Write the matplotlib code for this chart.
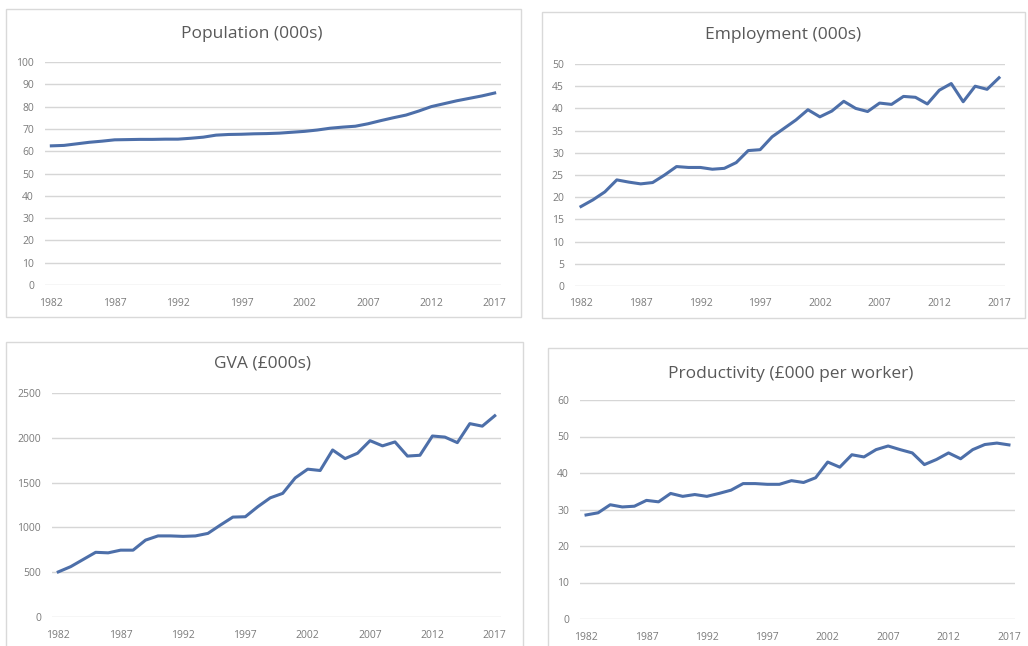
import matplotlib
matplotlib.use("Agg")
import matplotlib.pyplot as plt
from matplotlib.patches import Rectangle

years = list(range(1982, 2018))
year_ticks = [1982, 1987, 1992, 1997, 2002, 2007, 2012, 2017]

population = [62.4, 62.6, 63.3, 64.0, 64.5, 65.1, 65.2, 65.3, 65.3, 65.4,
              65.4, 65.8, 66.3, 67.2, 67.5, 67.6, 67.8, 67.9, 68.1, 68.5,
              68.9, 69.5, 70.3, 70.8, 71.2, 72.3, 73.7, 75.0, 76.2, 78.0,
              80.0, 81.3, 82.6, 83.7, 84.8, 86.1]

employment = [17.9, 19.4, 21.2, 23.9, 23.4, 23.0, 23.3, 25.0, 26.9, 26.7,
              26.7, 26.3, 26.5, 27.8, 30.5, 30.7, 33.6, 35.5, 37.4, 39.7,
              38.1, 39.4, 41.6, 40.0, 39.3, 41.2, 40.9, 42.7, 42.5, 41.0,
              44.1, 45.6, 41.5, 45.0, 44.3, 46.9]

gva = [503, 562, 642, 722, 716, 746, 746, 858, 905, 905,
       900, 905, 933, 1026, 1115, 1119, 1231, 1330, 1380, 1552,
       1650, 1635, 1864, 1768, 1828, 1968, 1910, 1954, 1796, 1805,
       2020, 2008, 1946, 2158, 2130, 2246]

productivity = [28.5, 29.1, 31.3, 30.7, 30.9, 32.5, 32.1, 34.4, 33.6, 34.1,
                33.6, 34.4, 35.3, 37.1, 37.1, 36.9, 36.9, 37.9, 37.4, 38.7,
                43.0, 41.6, 45.0, 44.4, 46.4, 47.4, 46.4, 45.5, 42.3, 43.7,
                45.5, 43.9, 46.4, 47.8, 48.2, 47.7]

W, H = 1028, 646
LINE = "#4D6FA9"
GRID = "#D6D6D6"
TXT = "#7A7A7A"
TITLE = "#595959"

plt.rcParams["font.family"] = ["Open Sans", "DejaVu Sans"]

fig = plt.figure(figsize=(W / 100, H / 100), dpi=100)
fig.patch.set_facecolor("white")


def fbox(x0, y0, x1, y1):
    """Pixel box (top-left origin) -> figure fraction [l, b, w, h]."""
    return [x0 / W, 1 - y1 / H, (x1 - x0) / W, (y1 - y0) / H]


def frame(x0, y0, x1, y1):
    l, b, w, h = fbox(x0, y0, x1, y1)
    fig.add_artist(Rectangle((l, b), w, h, transform=fig.transFigure,
                             fill=False, edgecolor="#D9D9D9", linewidth=1.0))


panels = [
    # chart frame, plot box, title, title position, data, y ticks
    ((6, 9, 521, 317), (45, 62, 501, 285), "Population (000s)", (252, 34),
     population, list(range(0, 101, 10))),
    ((542, 12, 1025, 318), (575, 64, 1005, 286), "Employment (000s)", (783, 35),
     employment, list(range(0, 51, 5))),
    ((6, 342, 523, 660), (52, 393, 501, 617), "GVA (£000s)", (263, 364),
     gva, list(range(0, 2501, 500))),
    ((548, 348, 1030, 660), (580, 400, 1015, 619), "Productivity (£000 per worker)", (791, 374),
     productivity, list(range(0, 61, 10))),
]

for fr, box, title, tpos, values, yticks in panels:
    frame(*fr)
    ax = fig.add_axes(fbox(*box))
    ax.plot(years, values, color=LINE, linewidth=2.2, solid_joinstyle="round")
    ax.set_xlim(1981.5, 2017.5)
    ax.set_ylim(yticks[0], yticks[-1])
    ax.set_yticks(yticks)
    ax.set_xticks(year_ticks)
    ax.grid(axis="y", color=GRID, linewidth=1.0)
    ax.set_axisbelow(True)
    for s in ax.spines.values():
        s.set_visible(False)
    ax.tick_params(length=0, labelsize=7.5, colors=TXT, pad=9)
    ax.tick_params(axis="y", pad=8)
    fig.text(tpos[0] / W, 1 - tpos[1] / H, title, ha="center", va="center",
             fontsize=12.5, color=TITLE)

fig.savefig("out.png", dpi=100, facecolor="white")
